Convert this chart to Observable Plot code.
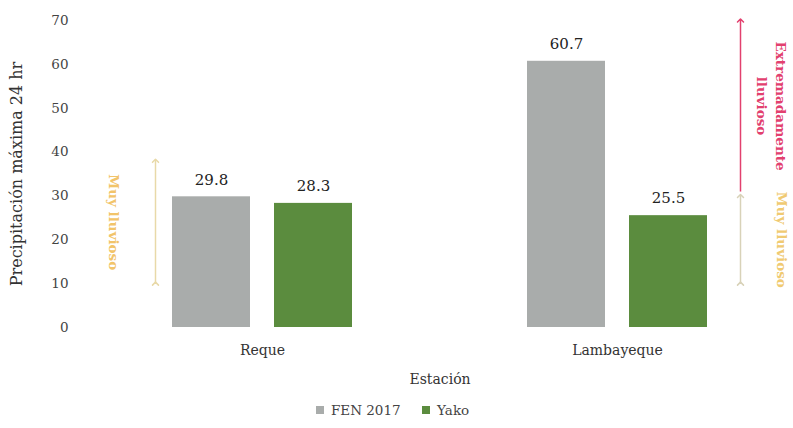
<!DOCTYPE html>
<html>
<head>
<meta charset="utf-8">
<script src="https://cdn.jsdelivr.net/npm/d3@7"></script>
<script src="https://cdn.jsdelivr.net/npm/@observablehq/plot@0.6"></script>
<style>
  html, body { margin: 0; padding: 0; background: #fff; }
  #chart { width: 793px; }
  #legend { width: 793px; display: flex; justify-content: center; margin-top: 0px; padding-left: 14px; box-sizing: border-box; }
</style>
</head>
<body>
<div id="chart"></div>
<div id="legend"></div>
<script>
const stations = ["Reque", "Lambayeque"];
const series = ["FEN 2017", "Yako"];
const fenValues = [29.8, 60.7];
const yakoValues = [28.3, 25.5];
const seriesColors = ["#a9acab", "#5b8c3e"];
const yTicks = [0, 10, 20, 30, 40, 50, 60, 70];

// annotation ranges (value units)
const annStation = ["Reque", "Lambayeque", "Lambayeque"];
const annFrom = [10, 31, 10];
const annTo = [38, 70, 30];
const annLabel = ["Muy lluvioso", "Extremadamente\nlluvioso", "Muy lluvioso"];
const annColor = ["#f2c46a", "#e2406e", "#f0ca72"];

const bars = [];
stations.forEach((s, i) => {
  bars.push({station: s, series: series[0], value: fenValues[i]});
  bars.push({station: s, series: series[1], value: yakoValues[i]});
});

const ann = annStation.map((s, i) => ({
  station: s, from: annFrom[i], to: annTo[i], label: annLabel[i], color: annColor[i],
  mid: (annFrom[i] + annTo[i]) / 2,
  anchorBar: s === "Reque" ? series[0] : series[1],
  side: s === "Reque" ? -1 : 1
}));
const annLeft = ann.filter(d => d.side < 0);
const annRightRed = ann.filter(d => d.side > 0 && d.from > 30);
const annRightYellow = ann.filter(d => d.side > 0 && d.from <= 30);

const font = "'DejaVu Serif', 'Liberation Serif', serif";

const plot = Plot.plot({
  width: 793,
  height: 393,
  marginLeft: 80,
  marginRight: 0,
  marginTop: 20,
  marginBottom: 66,
  style: {fontFamily: font, fontSize: "13px", color: "#333", background: "#fff"},
  fx: {domain: stations, paddingInner: 0.359, paddingOuter: 0.182, align: 0.525, label: null},
  x: {domain: series, padding: 0.235, axis: null},
  y: {domain: [0, 70], ticks: yTicks, label: "Precipitación máxima 24 hr"},
  color: {domain: series, range: seriesColors},
  marks: [
    Plot.axisY({ticks: yTicks, tickSize: 0, tickPadding: 80, label: null, fontSize: 13.5, fill: "#444"}),
    Plot.axisY({ticks: [], tickSize: 0, label: "Precipitación máxima 24 hr",
      labelAnchor: "center", labelArrow: "none", labelOffset: 138, fontSize: 16, fill: "#333"}),
    Plot.axisFx({anchor: "bottom", tickSize: 0, tickPadding: 18, label: "Estación",
      labelAnchor: "center", labelArrow: "none", labelOffset: 56, fontSize: 14}),
    Plot.barY(bars, {fx: "station", x: "series", y: "value", fill: "series"}),
    Plot.text(bars, {fx: "station", x: "series", y: "value", text: d => d.value.toFixed(1),
      dy: -17, fontSize: 15, fill: "#222"}),
    // range arrows
    Plot.link(annLeft, {fx: "station", x: "anchorBar", y1: "from", y2: "to", dx: -56,
      stroke: "#e8d9a8", strokeWidth: 1.5, markerStart: "arrow", markerEnd: "arrow"}),
    Plot.link(annRightRed, {fx: "station", x: "anchorBar", y1: "from", y2: "to", dx: 72,
      stroke: "#e2406e", strokeWidth: 1.5, markerEnd: "arrow"}),
    Plot.link(annRightYellow, {fx: "station", x: "anchorBar", y1: "from", y2: "to", dx: 72,
      stroke: "#d8d2b8", strokeWidth: 1.5, markerStart: "arrow", markerEnd: "arrow"}),
    Plot.text(annLeft, {fx: "station", x: "anchorBar", y: "mid", text: "label", dx: -98,
      rotate: 90, fill: "color", fontSize: 13.5, fontWeight: "bold"}),
    Plot.text(annRightRed, {fx: "station", x: "anchorBar", y: "mid", text: "label", dx: 104,
      rotate: 90, fill: "color", fontSize: 13.5, fontWeight: "bold", lineHeight: 1.4}),
    Plot.text(annRightYellow, {fx: "station", x: "anchorBar", y: "mid", text: "label", dx: 113,
      rotate: 90, fill: "color", fontSize: 13.5, fontWeight: "bold"})
  ]
});
document.getElementById("chart").appendChild(plot);

const legend = Plot.legend({
  color: {domain: series, range: seriesColors},
  swatchSize: 8,
  style: {fontFamily: font, fontSize: "13.5px", color: "#444"}
});
legend.querySelectorAll("span").forEach(s => { s.style.marginRight = "1.6em"; });
document.getElementById("legend").appendChild(legend);
</script>
</body>
</html>
